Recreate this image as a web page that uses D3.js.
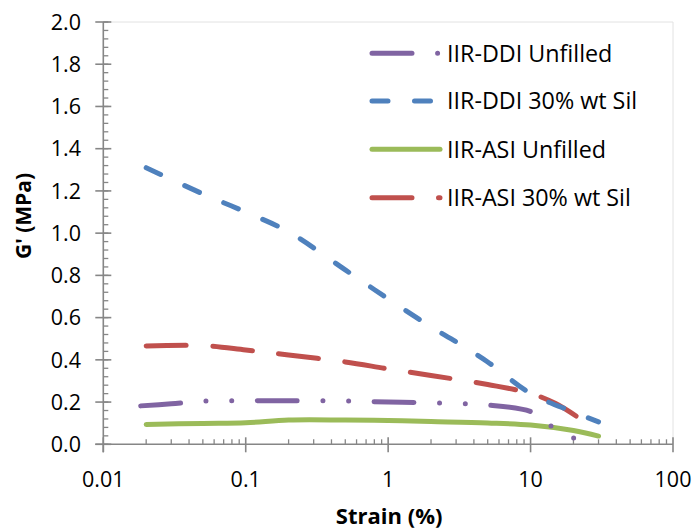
<!DOCTYPE html>
<html><head><meta charset="utf-8">
<script src="https://cdn.jsdelivr.net/npm/d3@7"></script>
<style>
html,body{margin:0;padding:0;background:#fff;}
svg text{font-family:"Open Sans",sans-serif;fill:#000;}
</style></head>
<body><svg id="c" width="697" height="531"></svg>
<script>
// ---- data ----
const seriesNames = ["IIR-DDI Unfilled","IIR-DDI 30% wt Sil","IIR-ASI Unfilled","IIR-ASI 30% wt Sil"];
const ddiUnfilledStrain = [0.0183,0.03,0.05,0.1,0.2,0.5,1,2,5,10,13,19,30];
const ddiUnfilledG      = [0.182,0.192,0.204,0.206,0.206,0.205,0.200,0.196,0.186,0.155,0.100,0.035,0.011];
const ddiSilStrain = [0.02,0.05,0.1,0.2,0.5,1,2,3,5,10,20,30];
const ddiSilG      = [1.31,1.186,1.10,1.006,0.826,0.689,0.556,0.485,0.39,0.241,0.153,0.106];
const asiUnfilledStrain = [0.02,0.05,0.1,0.2,0.5,1,2,5,10,20,30];
const asiUnfilledG      = [0.094,0.099,0.102,0.115,0.115,0.113,0.108,0.101,0.091,0.065,0.039];
const asiSilStrain = [0.02,0.05,0.1,0.2,0.5,1,2,5,10,15,21.5];
const asiSilG      = [0.466,0.468,0.447,0.423,0.39,0.357,0.326,0.283,0.241,0.193,0.128];
const xTicks = [0.01,0.1,1,10,100];
const xTickLabels = ["0.01","0.1","1","10","100"];
const yTicks = [0,0.2,0.4,0.6,0.8,1.0,1.2,1.4,1.6,1.8,2.0];
const xTitle = "Strain (%)";
const yTitle = "G' (MPa)";

const colors = ["#8064A2","#4F81BD","#9BBB59","#C0504D"];
const dashes = ["40,25.6,0,25.6,0,25.6","16,26.5",null,"40,26.5"];

const svg = d3.select("#c");
const L=103.3, R=673, T=22, B=444.3;
const x = d3.scaleLog().domain([0.01,100]).range([L,R]);
const y = d3.scaleLinear().domain([0,2]).range([B,T]);
const axisColor = "#868686";

// faint plot border (top/right)
svg.append("path").attr("d",`M${L},${T}H${R}V${B}`).attr("fill","none").attr("stroke","#e2e2e2").attr("stroke-width",1);

// y axis
const gy = svg.append("g");
gy.append("line").attr("x1",L).attr("x2",L).attr("y1",T).attr("y2",B+8).attr("stroke",axisColor).attr("stroke-width",1.6);
const yMinor = d3.range(0,2.0001,0.04);
gy.selectAll(".ym").data(yMinor).enter().append("line")
  .attr("x1",L).attr("x2",L+5).attr("y1",d=>y(d)).attr("y2",d=>y(d)).attr("stroke",axisColor).attr("stroke-width",1.3);
gy.selectAll(".yM").data(yTicks).enter().append("line")
  .attr("x1",L-8).attr("x2",L+8).attr("y1",d=>y(d)).attr("y2",d=>y(d)).attr("stroke",axisColor).attr("stroke-width",1.6);
gy.selectAll(".yl").data(yTicks).enter().append("text")
  .attr("x",81).attr("y",d=>y(d)).attr("dy","0.357em").attr("text-anchor","end")
  .style("font-size","21.5px").text(d=>d.toFixed(1));

// x axis
const gx = svg.append("g");
gx.append("line").attr("x1",L-8).attr("x2",R).attr("y1",B).attr("y2",B).attr("stroke",axisColor).attr("stroke-width",1.6);
const xMinor = [];
[0.01,0.1,1,10].forEach(d=>{for(let k=2;k<=9;k++) xMinor.push(d*k);});
gx.selectAll(".xm").data(xMinor).enter().append("line")
  .attr("x1",d=>x(d)).attr("x2",d=>x(d)).attr("y1",B-5).attr("y2",B).attr("stroke",axisColor).attr("stroke-width",1.3);
gx.selectAll(".xM").data(xTicks).enter().append("line")
  .attr("x1",d=>x(d)).attr("x2",d=>x(d)).attr("y1",B-7).attr("y2",B+8).attr("stroke",axisColor).attr("stroke-width",1.6);
gx.selectAll(".xl").data(xTicks).enter().append("text")
  .attr("x",d=>x(d)).attr("y",487).attr("text-anchor","middle")
  .style("font-size","21.5px").text((d,i)=>xTickLabels[i]);

// titles
svg.append("text").attr("x",(L+R)/2+1).attr("y",524).attr("text-anchor","middle")
  .style("font-size","22px").style("font-weight","bold").text(xTitle);
svg.append("text").attr("transform",`translate(31,216) rotate(-90)`).attr("text-anchor","middle")
  .style("font-size","21px").style("font-weight","bold").text(yTitle);

// lines
const data = [
  d3.zip(ddiUnfilledStrain, ddiUnfilledG),
  d3.zip(ddiSilStrain, ddiSilG),
  d3.zip(asiUnfilledStrain, asiUnfilledG),
  d3.zip(asiSilStrain, asiSilG)
];
const line = d3.line().x(d=>x(d[0])).y(d=>y(d[1])).curve(d3.curveCatmullRom.alpha(0.5));
const order = [2,0,3,1];
order.forEach(i=>{
  svg.append("path").attr("d",line(data[i])).attr("fill","none")
    .attr("stroke",colors[i]).attr("stroke-width",5).attr("stroke-linecap","round")
    .attr("stroke-linejoin","round").attr("stroke-dasharray",dashes[i]);
});

// legend
const legY = [53.3,101,149.3,197.7];
seriesNames.forEach((n,i)=>{
  svg.append("line").attr("x1",372).attr("x2",440).attr("y1",legY[i]).attr("y2",legY[i])
    .attr("stroke",colors[i]).attr("stroke-width",5).attr("stroke-linecap","round").attr("stroke-dasharray",dashes[i]);
  svg.append("text").attr("x",447).attr("y",legY[i]).attr("dy","0.357em")
    .style("font-size","23.3px").text(n);
});
</script></body></html>
